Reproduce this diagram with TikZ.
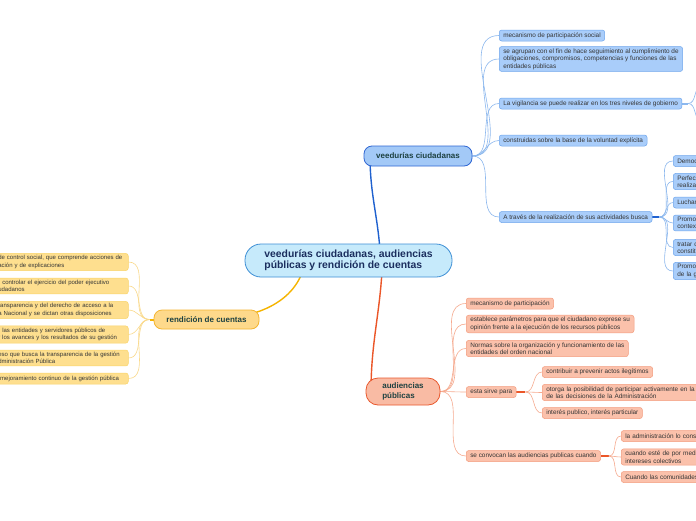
\documentclass[tikz,border=0pt]{standalone}
\usepackage{fontspec}
\setmainfont{Liberation Sans}
\usetikzlibrary{positioning}
\pgfdeclarelayer{fondo}
\pgfsetlayers{fondo,main}

\definecolor{centroFondo}{HTML}{C6EAFB}
\definecolor{centroBorde}{HTML}{3E8FD5}
\definecolor{centroTexto}{HTML}{1B2E5E}
\definecolor{ramaTexto}{HTML}{1D4141}
\definecolor{textoHoja}{HTML}{353535}
\definecolor{azulFondo}{HTML}{A3C9F7}
\definecolor{azulBorde}{HTML}{2F66D3}
\definecolor{azulLinea}{HTML}{1F61CF}
\definecolor{azulHojaFondo}{HTML}{A9CDFA}
\definecolor{azulHojaBorde}{HTML}{6FA6EC}
\definecolor{azulHojaLinea}{HTML}{8CB8EE}
\definecolor{rojoFondo}{HTML}{F9BBA4}
\definecolor{rojoBorde}{HTML}{E9592E}
\definecolor{rojoLinea}{HTML}{EB5628}
\definecolor{rojoHojaFondo}{HTML}{FBC1AB}
\definecolor{rojoHojaBorde}{HTML}{F39C7E}
\definecolor{rojoHojaLinea}{HTML}{F6AA8F}
\definecolor{amaFondo}{HTML}{FED98B}
\definecolor{amaBorde}{HTML}{F4B531}
\definecolor{amaLinea}{HTML}{F5B400}
\definecolor{amaHojaFondo}{HTML}{FEDF8F}
\definecolor{amaHojaBorde}{HTML}{F9D46A}
\definecolor{amaHojaLinea}{HTML}{FAD98A}

\begin{document}
\begin{tikzpicture}[
    x=1pt, y=-1pt,
    every node/.style={font=\fontsize{6.4}{7.5}\selectfont, text=textoHoja},
    central/.style={draw=centroBorde, fill=centroFondo, line width=0.8pt,
                    rounded corners=16pt, minimum width=207, minimum height=33,
                    align=left, text=centroTexto,
                    font=\bfseries\fontsize{10.4}{11}\selectfont},
    rama/.style={line width=0.8pt, rounded corners=8pt, minimum height=20,
                 align=left, text=ramaTexto, font=\bfseries\fontsize{8}{9.5}\selectfont},
    ramaAzul/.style={rama, draw=azulBorde, fill=azulFondo, minimum width=108},
    ramaRoja/.style={rama, draw=rojoBorde, fill=rojoFondo, minimum width=74,
                     minimum height=27, rounded corners=12pt},
    ramaAmarilla/.style={rama, draw=amaBorde, fill=amaFondo, minimum width=105,
                         minimum height=19},
    hoja/.style={anchor=west, rounded corners=2.5pt, line width=0.5pt, align=left,
                 inner xsep=4pt, inner ysep=2pt, minimum height=11},
    hojaAzul/.style={hoja, draw=azulHojaBorde, fill=azulHojaFondo},
    hojaRoja/.style={hoja, draw=rojoHojaBorde, fill=rojoHojaFondo},
    hojaAmarilla/.style={hoja, draw=amaHojaBorde, fill=amaHojaFondo, text width=132,
                         font=\fontsize{6}{7.5}\selectfont},
    enlace/.style={line width=0.6pt},
    enlaceAzul/.style={enlace, draw=azulHojaLinea},
    enlaceRojo/.style={enlace, draw=rojoHojaLinea},
    enlaceAmarillo/.style={enlace, draw=amaHojaLinea},
    tronco/.style={line width=1.4pt},
    tallo/.style={line width=2pt}
]
    \useasboundingbox (0,0) rectangle (696,520);
    \clip (0,0) rectangle (696,520);

    % centro y ramas
    \node[central] (centro) at (348.5,260.5) {veedurías ciudadanas, audiencias\\públicas y rendición de cuentas};
    \node[ramaAzul] (veedurias) at (418,156) {veedurías ciudadanas};
    \node[ramaRoja] (audiencias) at (403,391.5) {audiencias\\públicas};
    \node[ramaAmarilla] (rendicion) at (206.5,319.5) {rendición de cuentas};

    % veedurias ciudadanas
    \node[hojaAzul] (mecanismo)   at (499,35.5)  {mecanismo de participación social};
    \node[hojaAzul] (agrupan)     at (499,59)    {se agrupan con el fin de hace seguimiento al cumplimiento de\\obligaciones, compromisos, competencias y funciones de las\\entidades públicas};
    \node[hojaAzul] (vigilancia)  at (499,103.5) {La vigilancia se puede realizar en los tres niveles de gobierno};
    \node[hojaAzul] (construidas) at (499,140.5) {construidas sobre la base de la voluntad explícita};
    \node[hojaAzul] (busca)       at (499,217)   {A través de la realización de sus actividades busca};
    \coordinate (vigilancia-t) at ([xshift=6]vigilancia.east);
    \coordinate (nivelA) at (702,86);
    \coordinate (nivelB) at (702,121);
    \coordinate (busca-t) at ([xshift=7]busca.east);

    \node[hojaAzul, text width=60] (democ)   at (673,161)   {Democratizar};
    \node[hojaAzul, text width=60] (perfecc) at (673,181.5) {Perfeccionar\\realizar};
    \node[hojaAzul, text width=60] (luchar)  at (673,202.5) {Luchar};
    \node[hojaAzul, text width=60] (promoA)  at (673,223)   {Promover\\contexto};
    \node[hojaAzul, text width=60] (tratar)  at (673,247.5) {tratar de\\constitucional};
    \node[hojaAzul, text width=60] (promoB)  at (673,271)   {Promover\\de la gestión};

    % audiencias publicas
    \node[hojaRoja] (mecanismoAp) at (466,303.5) {mecanismo de participación};
    \node[hojaRoja] (parametros)  at (466,324)   {establece parámetros para que el ciudadano exprese su\\opinión frente a la ejecución de los recursos públicos};
    \node[hojaRoja] (normas)      at (466,348.5) {Normas sobre la organización y funcionamiento de las\\entidades del orden nacional};
    \node[hojaRoja] (sirve)       at (466,392)   {esta sirve para};
    \node[hojaRoja] (convocan)    at (466,456)   {se convocan las audiencias publicas cuando};
    \coordinate (sirve-t) at ([xshift=9]sirve.east);
    \coordinate (convocan-t) at ([xshift=8]convocan.east);

    \node[hojaRoja] (prevenir) at (542,372) {contribuir a prevenir actos ilegítimos};
    \node[hojaRoja, text width=220] (otorga) at (542,392.5) {otorga la posibilidad de participar activamente en la formación\\de las decisiones de la Administración};
    \node[hojaRoja] (interes) at (542,413) {interés publico, interés particular};
    \node[hojaRoja, text width=110] (considere)   at (621,436) {la administración lo considere};
    \node[hojaRoja, text width=110] (medio)       at (621,457) {cuando esté de por medio\\intereses colectivos};
    \node[hojaRoja, text width=110] (comunidades) at (621,477) {Cuando las comunidades};

    % rendicion de cuentas
    \node[hojaAmarilla] (controlSocial) at (-12,262)   {\mbox{\hspace*{6pt}de control social, que comprende acciones de}\\\mbox{\hspace*{6pt}ación y de explicaciones}};
    \node[hojaAmarilla] (ejecutivo)     at (-12,286)   {\mbox{\hspace*{10pt}controlar el ejercicio del poder ejecutivo}\\\mbox{\hspace*{6pt}udadanos}};
    \node[hojaAmarilla] (transparencia) at (-12,310)   {\mbox{\hspace*{6pt}ransparencia y del derecho de acceso a la}\\\mbox{\hspace*{6pt}a Nacional y se dictan otras disposiciones}};
    \node[hojaAmarilla] (servidores)    at (-12,334.5) {\mbox{\hspace*{10pt}las entidades y servidores públicos de}\\\mbox{\hspace*{6pt}r los avances y los resultados de su gestión}};
    \node[hojaAmarilla] (proceso)       at (-12,358)   {\mbox{\hspace*{6pt}eso que busca la transparencia de la gestión}\\\mbox{\hspace*{6pt}dministración Pública}};
    \node[hojaAmarilla] (mejora)        at (-12,378.5) {\mbox{\hspace*{8pt}mejoramiento continuo de la gestión pública}};
    \coordinate (rendicion-t) at ([xshift=-4]rendicion.west);

    \begin{pgfonlayer}{fondo}
    \fill[white] (0,0) rectangle (696,520);
    \draw[tronco, azulLinea] ([xshift=32]centro.center) to[out=92,in=-90] ([xshift=-48]veedurias.center);
    \draw[tronco, rojoLinea] ([xshift=34]centro.center) to[out=-92,in=90] ([xshift=-32]audiencias.center);
    \draw[tronco, amaLinea]  ([xshift=-43]centro.center) to[out=-100,in=0] (rendicion.center);

    \draw[enlaceAzul] (veedurias.east) to[out=0,in=180] (mecanismo.west);
    \draw[enlaceAzul] (veedurias.east) to[out=0,in=180] (agrupan.west);
    \draw[enlaceAzul] (veedurias.east) to[out=0,in=180] (vigilancia.west);
    \draw[enlaceAzul] (veedurias.east) to[out=0,in=180] (construidas.west);
    \draw[enlaceAzul] (veedurias.east) to[out=0,in=180] (busca.west);
    \draw[tallo, azulHojaLinea] (vigilancia.east) -- (vigilancia-t);
    \draw[enlaceAzul] (vigilancia-t) to[out=0,in=180] (nivelA);
    \draw[enlaceAzul] (vigilancia-t) to[out=0,in=180] (nivelB);
    \draw[tallo, azulLinea] (busca.east) -- (busca-t);
    \draw[enlaceAzul] (busca-t) to[out=0,in=180] (democ.west);
    \draw[enlaceAzul] (busca-t) to[out=0,in=180] (perfecc.west);
    \draw[enlaceAzul] (busca-t) to[out=0,in=180] (luchar.west);
    \draw[enlaceAzul] (busca-t) to[out=0,in=180] (promoA.west);
    \draw[enlaceAzul] (busca-t) to[out=0,in=180] (tratar.west);
    \draw[enlaceAzul] (busca-t) to[out=0,in=180] (promoB.west);

    \draw[enlaceRojo] (audiencias.east) to[out=0,in=180] (mecanismoAp.west);
    \draw[enlaceRojo] (audiencias.east) to[out=0,in=180] (parametros.west);
    \draw[enlaceRojo] (audiencias.east) to[out=0,in=180] (normas.west);
    \draw[enlaceRojo] (audiencias.east) to[out=0,in=180] (sirve.west);
    \draw[enlaceRojo] (audiencias.east) to[out=0,in=180] (convocan.west);
    \draw[tallo, rojoLinea] (sirve.east) -- (sirve-t);
    \draw[enlaceRojo] (sirve-t) to[out=0,in=180] (prevenir.west);
    \draw[enlaceRojo] (sirve-t) to[out=0,in=180] (otorga.west);
    \draw[enlaceRojo] (sirve-t) to[out=0,in=180] (interes.west);
    \draw[tallo, rojoLinea] (convocan.east) -- (convocan-t);
    \draw[enlaceRojo] (convocan-t) to[out=0,in=180] (considere.west);
    \draw[enlaceRojo] (convocan-t) to[out=0,in=180] (medio.west);
    \draw[enlaceRojo] (convocan-t) to[out=0,in=180] (comunidades.west);

    \draw[tallo, amaLinea] (rendicion.west) -- (rendicion-t);
    \draw[enlaceAmarillo] (rendicion-t) to[out=180,in=0] (controlSocial.east);
    \draw[enlaceAmarillo] (rendicion-t) to[out=180,in=0] (ejecutivo.east);
    \draw[enlaceAmarillo] (rendicion-t) to[out=180,in=0] (transparencia.east);
    \draw[enlaceAmarillo] (rendicion-t) to[out=180,in=0] (servidores.east);
    \draw[enlaceAmarillo] (rendicion-t) to[out=180,in=0] (proceso.east);
    \draw[enlaceAmarillo] (rendicion-t) to[out=180,in=0] (mejora.east);
    \end{pgfonlayer}
\end{tikzpicture}
\end{document}
